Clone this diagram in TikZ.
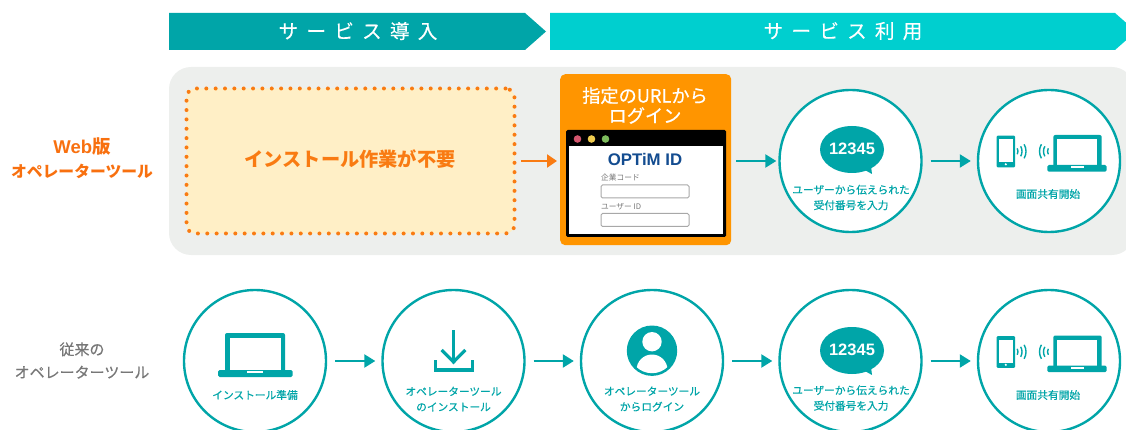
\documentclass[tikz,border=0pt]{standalone}
\usepackage{fontspec}
\setmainfont{Noto Sans CJK JP}
\newfontfamily\hdrf[LetterSpace=42,FakeBold=0.3]{Noto Sans CJK JP}
\newfontfamily\medf[FakeBold=0.5]{Noto Sans CJK JP}
\newfontfamily\latf{Liberation Sans}
\newcommand{\jpb}{\bfseries}
\newcommand{\latb}{\latf\bfseries}
\definecolor{teal1}{HTML}{00A5A8}
\definecolor{teal2}{HTML}{00CFCF}
\definecolor{org1}{HTML}{FF9500}
\definecolor{org2}{HTML}{F97B12}
\definecolor{org3}{HTML}{F8700F}
\definecolor{panel}{HTML}{EDEFED}
\definecolor{cream}{HTML}{FFEFC6}
\definecolor{greyt}{HTML}{777777}
\definecolor{fieldg}{HTML}{A8A8A8}
\definecolor{dotr}{HTML}{D4566E}
\definecolor{doty}{HTML}{EFCB4E}
\definecolor{dotg}{HTML}{7DBB5C}
\definecolor{optim}{HTML}{134C90}
\usetikzlibrary{arrows.meta}
\tikzset{
  stepc/.style={circle,draw=teal1,fill=white,line width=2.4pt,minimum size=142pt,inner sep=0pt},
  lab/.style={text=teal1,font=\medf\fontsize{10.7}{15.5}\selectfont,align=center,inner sep=0pt},
  hdr/.style={text=white,font=\hdrf\fontsize{19.6}{19.6}\selectfont,inner sep=0pt},
  side/.style={align=center,inner sep=0pt},
  flow/.style={draw=teal1,line width=2.2pt,-{Triangle[length=11pt,width=13pt]},shorten <=8pt,shorten >=6pt},
  flowo/.style={draw=org2,line width=2.2pt,-{Triangle[length=10pt,width=13pt]},shorten <=6.5pt,shorten >=3pt},
  bubble/.pic={
    \fill[teal1] (2,-11.5) circle [x radius=32,y radius=23.5];
    \fill[teal1] (13,8) -- (22,13) -- (21,5) -- cycle;
    \node[text=white,font=\latb\fontsize{16.5}{16.5}\selectfont,inner sep=0pt] at (2,-12) {12345};
  },
  devices/.pic={
    \fill[teal1,rounded corners=1pt] (-52.3,-25.3) rectangle (-34,6.3);
    \fill[white] (-50.3,-22) rectangle (-36,1);
    \fill[white] (-43.2,3.3) circle (1.2);
    \fill[teal1,rounded corners=2pt] (4.3,-26) rectangle (52.7,6);
    \fill[white] (8.3,-21.7) rectangle (48.3,4);
    \fill[teal1,rounded corners=1.5pt] (-1.7,4) rectangle (57.7,10.7);
    \fill[white] (21.7,5) rectangle (35,7);
    \foreach \r in {6,10,14}{
      \draw[teal1,line width=1.4pt] ({-37+\r*cos(30)},{-9.7-\r*sin(30)}) arc (-30:30:\r);
      \draw[teal1,line width=1.4pt] ({4.5-\r*cos(30)},{-9.7-\r*sin(30)}) arc (210:150:\r);
    }
  },
}
\begin{document}
\begin{tikzpicture}[x=1pt,y=-1pt]
\useasboundingbox (0,0) rectangle (1126,430);
\clip (0,0) rectangle (1126,430);
% headers
\fill[teal1] (169,13) -- (525,13) -- (546,31.5) -- (525,50) -- (169,50) -- cycle;
\fill[teal2] (550,13) -- (1115,13) -- (1136,31.5) -- (1115,50) -- (550,50) -- cycle;
\node[hdr] (h1) at (358,31) {サービス導入};
\node[hdr] (h2) at (843,31) {サービス利用};
% panel
\fill[panel,rounded corners=22pt] (169,67) rectangle (1134,255);
% side labels
\node[side,text=org3,font=\jpb\fontsize{15.8}{24}\selectfont] (s1) at (82,158) {{\latb\fontsize{18.5}{24}\selectfont Web}{\fontsize{18.5}{24}\selectfont 版}\\オペレーターツール};
\node[side,text=greyt,font=\medf\fontsize{15}{23}\selectfont] (s2) at (82,360.5) {従来の\\オペレーターツール};
% dotted box
\node[draw=org2,fill=cream,line width=4pt,dash pattern=on 0pt off 9.35pt,line cap=round,rounded corners=9pt,minimum width=328pt,minimum height=145pt,inner sep=0pt,outer sep=0pt,anchor=north west] (dot) at (186.5,88.5) {};
\node[text=org2,font=\jpb\fontsize{19.2}{19.2}\selectfont,inner sep=0pt] (dott) at (350,159) {インストール作業が不要};
% orange box
\node[fill=org1,rounded corners=5pt,minimum width=171pt,minimum height=171pt,inner sep=0pt,anchor=north west] (login) at (560,74) {};
\node[text=white,font=\medf\fontsize{18.2}{20}\selectfont,align=center,inner sep=0pt] (logint) at (645,105.5) {指定のURLから\\ログイン};
\fill[black,rounded corners=1.5pt] (566,130) rectangle (726,237);
\fill[white] (569,146) rectangle (723,234);
\fill[dotr] (577.5,139) circle (3.8);
\fill[doty] (591.5,139) circle (3.8);
\fill[dotg] (605.5,139) circle (3.8);
\node[text=optim,font=\latb\fontsize{16.8}{16.8}\selectfont,inner sep=0pt] (oid) at (645,159) {OPTiM ID};
\node[text=greyt,font=\fontsize{7.7}{8}\selectfont,anchor=west,inner sep=0pt] (f1l) at (601,178) {企業コード};
\node[text=greyt,font=\fontsize{7.7}{8}\selectfont,anchor=west,inner sep=0pt] (f2l) at (601,207) {ユーザー ID};
\draw[fieldg,fill=white,line width=1pt,rounded corners=1.5pt] (601,185) rectangle (689,198);
\draw[fieldg,fill=white,line width=1pt,rounded corners=1.5pt] (601,213.5) rectangle (689,226.5);
% top circles
\node[stepc] (a4) at (850.5,161) {};
\node[stepc] (a5) at (1049,161) {};
\pic at (850,161) {bubble};
\pic at (1049,161) {devices};
\node[lab] (a4t) at (851,197.5) {ユーザーから伝えられた\\受付番号を入力};
\node[lab] (a5t) at (1048,194) {画面共有開始};
% bottom circles
\node[stepc] (b1) at (255,361) {};
\node[stepc] (b2) at (453.5,361) {};
\node[stepc] (b3) at (652,361) {};
\node[stepc] (b4) at (850.5,361) {};
\node[stepc] (b5) at (1049,361) {};
% large laptop
\fill[teal1,rounded corners=2pt] (225,333) rectangle (285,372);
\fill[white] (229.5,337.5) rectangle (281,372);
\fill[teal1,rounded corners=1.5pt] (218,370) rectangle (292.5,377);
\fill[white] (247,370.8) rectangle (263,372.8);
\node[lab] (b1t) at (255,395) {インストール準備};
% download
\draw[teal1,line width=3.2pt] (453.5,330) -- (453.5,361);
\draw[teal1,line width=3.2pt] (441.7,350) -- (453.5,362) -- (465.3,350);
\draw[teal1,line width=3.2pt] (435.5,360) -- (435.5,370) -- (472.5,370) -- (472.5,360);
\node[lab] (b2t) at (453.5,399) {オペレーターツール\\のインストール};
% user
\fill[teal1] (652,350.7) circle (25.2);
\begin{scope}
\clip (652,350.7) circle (22.5);
\fill[white] (652,370) circle [x radius=15.5,y radius=15.5];
\end{scope}
\fill[white] (652,341.7) circle (9.7);
\node[lab] (b3t) at (652,399) {オペレーターツール\\からログイン};
% bottom 4,5
\pic at (850,362) {bubble};
\pic at (1049,361.5) {devices};
\node[lab] (b4t) at (851,398) {ユーザーから伝えられた\\受付番号を入力};
\node[lab] (b5t) at (1048,395) {画面共有開始};
% arrows
\draw[flowo] (dot.east) -- (dot.east -| login.west);
\draw[flow,shorten <=5pt,shorten >=2pt] (login.east |- a4.west) -- (a4.west);
\draw[flow] (a4) -- (a5);
\draw[flow] (b1) -- (b2);
\draw[flow] (b2) -- (b3);
\draw[flow] (b3) -- (b4);
\draw[flow] (b4) -- (b5);
\end{tikzpicture}
\end{document}
